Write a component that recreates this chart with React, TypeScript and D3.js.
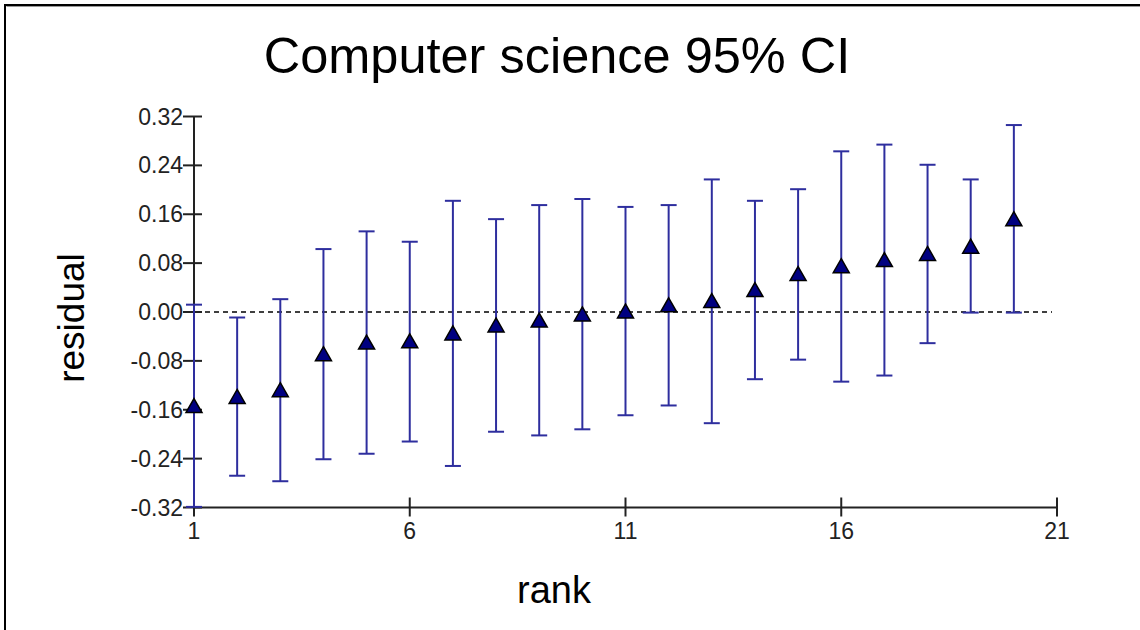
import React from "react";
import * as d3 from "d3";

// Residual rank plot: point estimate with 95% confidence interval per rank
const ranks = [1, 2, 3, 4, 5, 6, 7, 8, 9, 10, 11, 12, 13, 14, 15, 16, 17, 18, 19, 20];
const estimates = [-0.154, -0.139, -0.128, -0.069, -0.050, -0.048, -0.035, -0.022, -0.014, -0.004, 0.001, 0.011, 0.018, 0.036, 0.062, 0.075, 0.085, 0.095, 0.107, 0.152];
const lowerCI = [-0.319, -0.268, -0.277, -0.241, -0.232, -0.212, -0.252, -0.196, -0.202, -0.192, -0.169, -0.153, -0.182, -0.110, -0.078, -0.114, -0.104, -0.051, -0.001, -0.001];
const upperCI = [0.012, -0.009, 0.021, 0.103, 0.132, 0.115, 0.182, 0.152, 0.175, 0.185, 0.172, 0.175, 0.217, 0.182, 0.201, 0.263, 0.274, 0.241, 0.217, 0.306];

const yTicks = [-0.32, -0.24, -0.16, -0.08, 0.0, 0.08, 0.16, 0.24, 0.32];
const xTicks = [1, 6, 11, 16, 21];

const title = "Computer science 95% CI";
const xLabel = "rank";
const yLabel = "residual";

const W = 1140;
const H = 630;
const FONT = "'Liberation Sans', Arial, sans-serif";
const BAR = "#2e2e9e";
const MARK = "#000080";

// plain hyphen for negative tick labels
const locale = d3.formatLocale({
  decimal: ".",
  thousands: ",",
  grouping: [3],
  currency: ["", ""],
  minus: "-",
});

export default function App() {
  const x = d3.scaleLinear().domain([1, 21]).range([194, 1057]);
  const y = d3.scaleLinear().domain([-0.32, 0.32]).range([507.5, 116.5]);
  const fmt = locale.format(".2f");
  const cap = 8;

  const tri = (cx: number, cy: number) =>
    `M${cx},${cy - 7.5} L${cx + 8},${cy + 6.5} L${cx - 8},${cy + 6.5} Z`;

  return (
    <svg
      width={W}
      height={H}
      viewBox={`0 0 ${W} ${H}`}
      style={{ position: "absolute", left: 0, top: 0, display: "block", background: "#fff" }}
    >
      <rect x={0} y={0} width={W} height={H} fill="#fff" />
      {/* frame */}
      <line x1={5} y1={4} x2={5} y2={H} stroke="#000" strokeWidth={2} />
      <line x1={4} y1={5} x2={W} y2={5} stroke="#000" strokeWidth={2} />
      <line x1={6.5} y1={6.5} x2={W} y2={6.5} stroke="#999" strokeWidth={1} />

      {/* title */}
      <text x={557} y={73} textAnchor="middle" fontFamily={FONT} fontSize={50.5} fill="#000">
        {title}
      </text>

      {/* zero reference line */}
      <line
        x1={x(1) + 2}
        x2={x(21) - 5}
        y1={y(0)}
        y2={y(0)}
        stroke="#000"
        strokeWidth={1.5}
        strokeDasharray="5,4"
      />

      {/* y axis */}
      <line x1={x(1)} x2={x(1)} y1={y(0.32)} y2={y(-0.32)} stroke="#222" strokeWidth={2} />
      {yTicks.map((t) => (
        <g key={"yt" + t}>
          <line x1={x(1) - 11} x2={x(1) + 8} y1={y(t)} y2={y(t)} stroke="#222" strokeWidth={2} />
          <text
            x={x(1) - 11}
            y={y(t)}
            dy="0.35em"
            textAnchor="end"
            fontFamily={FONT}
            fontSize={23}
            fill="#222"
          >
            {fmt(t)}
          </text>
        </g>
      ))}

      {/* x axis */}
      <line x1={x(1)} x2={x(21)} y1={y(-0.32)} y2={y(-0.32)} stroke="#222" strokeWidth={2} />
      {xTicks.map((t) => (
        <g key={"xt" + t}>
          <line x1={x(t)} x2={x(t)} y1={y(-0.32) - 10} y2={y(-0.32) + 9} stroke="#222" strokeWidth={2} />
          <text x={x(t)} y={539} textAnchor="middle" fontFamily={FONT} fontSize={23} fill="#222">
            {t}
          </text>
        </g>
      ))}

      {/* axis titles */}
      <text x={554} y={603} textAnchor="middle" fontFamily={FONT} fontSize={38} fill="#000">
        {xLabel}
      </text>
      <text
        transform={`translate(84,318) rotate(-90)`}
        textAnchor="middle"
        fontFamily={FONT}
        fontSize={37}
        fill="#000"
      >
        {yLabel}
      </text>

      {/* confidence intervals */}
      {ranks.map((r, i) => (
        <g key={"ci" + r} stroke={BAR} strokeWidth={2}>
          <line x1={x(r)} x2={x(r)} y1={y(upperCI[i])} y2={y(lowerCI[i])} />
          <line x1={x(r) - cap} x2={x(r) + cap} y1={y(upperCI[i])} y2={y(upperCI[i])} />
          <line x1={x(r) - cap} x2={x(r) + cap} y1={y(lowerCI[i])} y2={y(lowerCI[i])} />
        </g>
      ))}

      {/* point estimates */}
      {ranks.map((r, i) => (
        <path
          key={"pt" + r}
          d={tri(x(r), y(estimates[i]))}
          fill={MARK}
          stroke="#000"
          strokeWidth={1.5}
          strokeLinejoin="miter"
        />
      ))}
    </svg>
  );
}
